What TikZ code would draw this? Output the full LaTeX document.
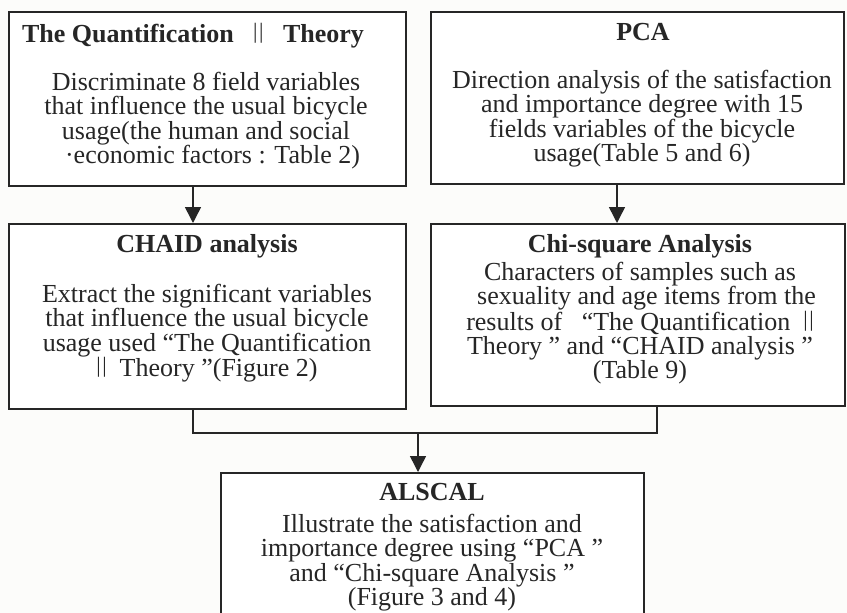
\documentclass[tikz,border=0pt]{standalone}
\usepackage{fontspec}
\setmainfont{Liberation Serif}
\usetikzlibrary{arrows.meta}
\definecolor{ink}{RGB}{38,38,38}
\definecolor{paper}{RGB}{252,252,250}
\newcommand\twobar{\raisebox{3.5pt}{\fontsize{22}{22}\selectfont\mdseries|\kern1.5pt|}}
\begin{document}
\begin{tikzpicture}[x=1pt,y=-1pt,
  box/.style={draw=ink, line width=1.5pt, fill=white, inner sep=0pt, anchor=north west},
  ttl/.style={font=\fontsize{26}{24.3}\selectfont\bfseries, text=ink, anchor=base, inner sep=0pt},
  body/.style={font=\fontsize{26}{24.3}\selectfont, text=ink, align=center, anchor=north, inner sep=0pt},
  link/.style={draw=ink, line width=1.5pt},
  arr/.style={link, -{Triangle[length=16pt,width=16pt]}}]
\path[use as bounding box, fill=paper] (0,0) rectangle (847,613);

% boxes
\node[box, minimum width=397pt, minimum height=174pt] (b1) at (8,11) {};
\node[box, minimum width=413pt, minimum height=172pt] (b2) at (430,11) {};
\node[box, minimum width=397pt, minimum height=185pt] (b3) at (8,223) {};
\node[box, minimum width=414pt, minimum height=182pt] (b4) at (430,223) {};
\node[box, minimum width=423pt, minimum height=160pt] (b5) at (220,472) {};

% titles
\node[ttl] (t1) at (193,42) {The Quantification\ \ \ \twobar\ \ \ Theory};
\node[ttl] (t2) at (643,40) {PCA};
\node[ttl] (t3) at (207,252) {CHAID analysis};
\node[ttl] (t4) at (640,252) {Chi-square Analysis};
\node[ttl] (t5) at (432,500) {ALSCAL};

% bodies
\node[body] (x1) at (206,72) {Discriminate 8 field variables\\that influence the usual bicycle\\usage(the human and social\\\ \ ·economic factors : Table 2)};
\node[body] (x2) at (642,70) {Direction analysis of the satisfaction\\and importance degree with 15\\fields variables of the bicycle\\usage(Table 5 and 6)};
\node[body] (x3) at (207,284) {Extract the significant variables\\that influence the usual bicycle\\usage used “The Quantification\\\twobar\ \ Theory ”(Figure 2)};
\node[body] (x4) at (640,262) {Characters of samples such as\\\ \ sexuality and age items from the\\results of\ \ \ “The Quantification\ \ \twobar\\Theory ” and “CHAID analysis ”\\(Table 9)};
\node[body] (x5) at (432,514) {Illustrate the satisfaction and\\importance degree using “PCA ”\\and “Chi-square Analysis ”\\(Figure 3 and 4)};

% connectors
\coordinate (c1) at (193,0);
\coordinate (c2) at (617,0);
\coordinate (c4) at (657,0);
\coordinate (m) at (418,433);
\draw[arr] (b1.south -| c1) -- (b3.north -| c1);
\draw[arr] (b2.south -| c2) -- (b4.north -| c2);
\draw[link] (b3.south -| c1) |- (m) -| (b4.south -| c4);
\draw[arr] (m) -- (b5.north -| m);
\end{tikzpicture}
\end{document}
